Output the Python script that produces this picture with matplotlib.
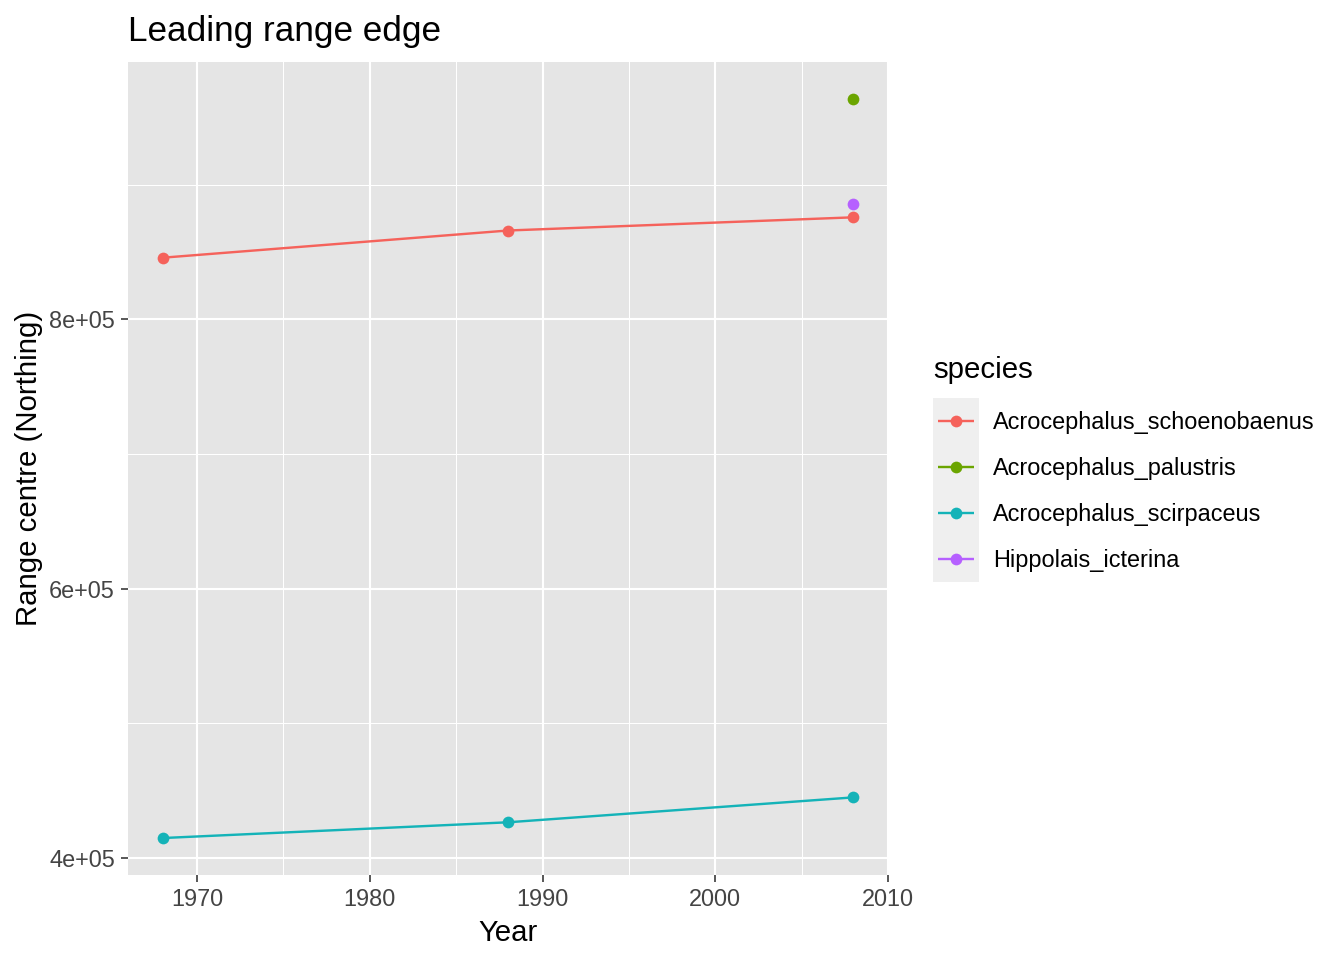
import matplotlib
matplotlib.use('Agg')
import matplotlib.pyplot as plt
from matplotlib.ticker import FixedLocator

plt.rcParams['font.family'] = ['Liberation Sans', 'DejaVu Sans']

# values
species = ['Acrocephalus_schoenobaenus', 'Acrocephalus_palustris',
           'Acrocephalus_scirpaceus', 'Hippolais_icterina']
colours = ['#F5625B', '#6BA500', '#14B3B8', '#B660FF']
years = {
    'Acrocephalus_schoenobaenus': [1968, 1988, 2008],
    'Acrocephalus_palustris': [2008],
    'Acrocephalus_scirpaceus': [1968, 1988, 2008],
    'Hippolais_icterina': [2008],
}
northing = {
    'Acrocephalus_schoenobaenus': [845800, 866000, 875800],
    'Acrocephalus_palustris': [963700],
    'Acrocephalus_scirpaceus': [414800, 426500, 445000],
    'Hippolais_icterina': [885900],
}
x_ticks = [1970, 1980, 1990, 2000, 2010]
x_minor = [1975, 1985, 1995, 2005]
y_ticks = [400000, 600000, 800000]
y_labels = ['4e+05', '6e+05', '8e+05']
y_minor = [500000, 700000, 900000]

W, H = 1344, 960
fig = plt.figure(figsize=(7, 5), dpi=192)
ax = fig.add_axes([128 / W, 1 - 875 / H, (888 - 128) / W, (875 - 62) / H])
ax.set_facecolor('#E5E5E5')

for sp, c in zip(species, colours):
    ax.plot(years[sp], northing[sp], color=c, lw=0.9, marker='o', ms=4.4,
            mec=c, mew=0, solid_capstyle='butt', zorder=3)

# ggplot style 5% expansion
all_x = [v for sp in species for v in years[sp]]
all_y = [v for sp in species for v in northing[sp]]
xr = max(all_x) - min(all_x)
yr = max(all_y) - min(all_y)
ax.set_xlim(min(all_x) - 0.05 * xr, max(all_x) + 0.05 * xr)
ax.set_ylim(min(all_y) - 0.05 * yr, max(all_y) + 0.05 * yr)

ax.xaxis.set_major_locator(FixedLocator(x_ticks))
ax.xaxis.set_minor_locator(FixedLocator(x_minor))
ax.yaxis.set_major_locator(FixedLocator(y_ticks))
ax.yaxis.set_minor_locator(FixedLocator(y_minor))
ax.set_yticklabels(y_labels)
ax.grid(which='major', color='white', lw=0.8, zorder=0)
ax.grid(which='minor', color='white', lw=0.4, zorder=0)
ax.set_axisbelow(True)
for s in ax.spines.values():
    s.set_visible(False)
ax.tick_params(which='major', length=2.75, width=0.6, color='#333333',
               labelcolor='#444444', labelsize=8.8, pad=2.2)
ax.tick_params(which='minor', length=0)

ax.set_xlabel('Year', fontsize=11, labelpad=2.8)
ax.set_ylabel('Range centre (Northing)', fontsize=11, labelpad=2.2)
ax.set_title('Leading range edge', loc='left', fontsize=13.2, pad=8)

# legend drawn by hand to follow ggplot's layout
fig.text(933 / W, 1 - 378 / H, 'species', fontsize=11, va='baseline', ha='left')
lax = fig.add_axes([933 / W, 1 - 582 / H, 46 / W, 184 / H])
lax.set_facecolor('#EFEFEF')
lax.set_xlim(0, 1)
lax.set_ylim(0, len(species))
lax.set_xticks([])
lax.set_yticks([])
for s in lax.spines.values():
    s.set_visible(False)
for i, (sp, c) in enumerate(zip(species, colours)):
    yk = len(species) - i - 0.5
    lax.plot([0.1, 0.9], [yk, yk], color=c, lw=0.9, solid_capstyle='butt')
    lax.plot([0.5], [yk], 'o', color=c, ms=4.4, mew=0)
    fig.text(993 / W, 1 - (422 + 46 * i) / H, sp, fontsize=8.8, va='center', ha='left')

fig.savefig('out.png', dpi=192)
